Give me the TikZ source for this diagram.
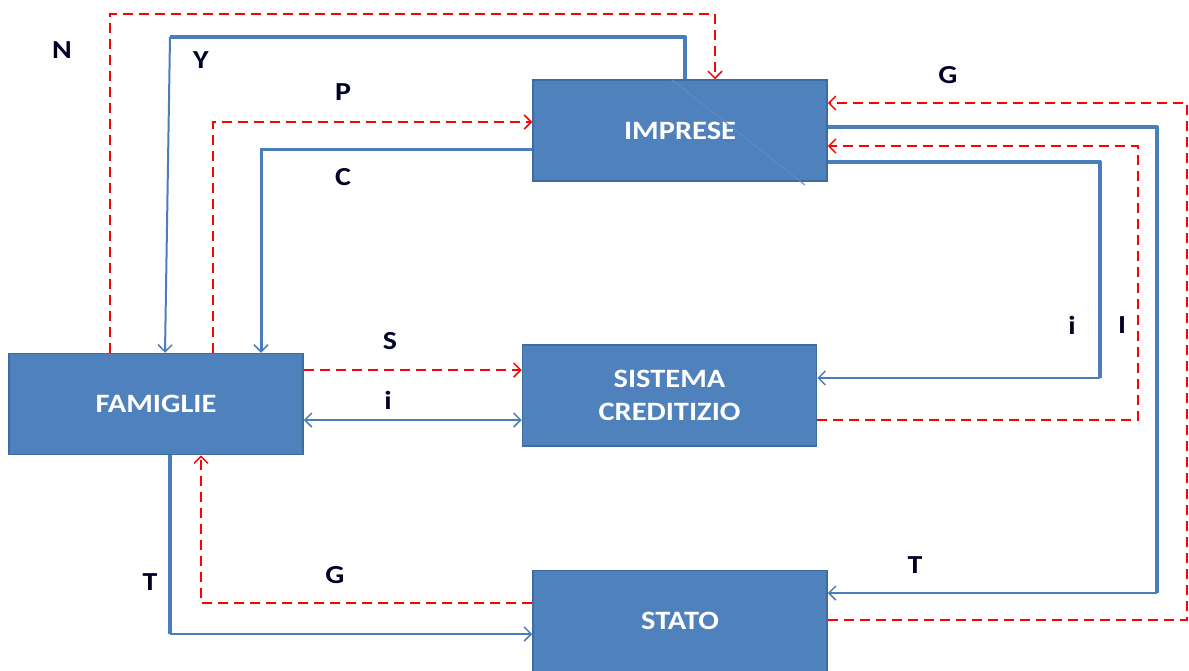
\documentclass[tikz,border=0pt]{standalone}
\usepackage{fontspec}
\setmainfont{Carlito}
\newfontfamily\cfont[FakeStretch=1.15]{Carlito}
\usetikzlibrary{arrows.meta}
\definecolor{boxblue}{HTML}{4F81BD}
\definecolor{boxedge}{HTML}{3F6C9E}
\definecolor{lineblue}{HTML}{4A7EBB}
\definecolor{fringe}{HTML}{5E8CC4}
\tikzset{
 box/.style={draw=boxedge, line width=1.5pt, fill=boxblue, minimum width=294pt, minimum height=101pt, inner sep=0pt, text=white, font=\cfont\bfseries\fontsize{26.5}{33}\selectfont, align=center},
 lbl/.style={font=\cfont\bfseries\fontsize{26}{30}\selectfont, text=black!85!blue, inner sep=0pt},
 flow/.style={draw=lineblue, line width=2pt},
 flowthick/.style={draw=lineblue, line width=4pt, line join=round},
 money/.style={draw=red, line width=2pt, dash pattern=on 10pt off 6pt},
 tip/.style={-{Straight Barb[length=7pt,width=14pt,line width=1.5pt]}},
 tips/.style={{Straight Barb[length=7pt,width=14pt,line width=1.5pt]}-{Straight Barb[length=7pt,width=14pt,line width=1.5pt]}}
}
\begin{document}
\begin{tikzpicture}[x=1pt,y=-1pt]
\useasboundingbox (0,0) rectangle (1189,670);
\fill[white] (0,0) rectangle (1189,670);

% boxes
\node[box] (I) at (680,130.5) {IMPRESE};
\node[box] (F) at (156,404) {FAMIGLIE};
\node[box] (S) at (669.5,395.5) {SISTEMA\\CREDITIZIO};
\node[box] (T) at (680,621) {STATO};

% faint diagonal artefact through IMPRESE
\coordinate (d1) at (672,80);
\coordinate (d2) at (805,185);
\draw[fringe, line width=1pt] (d1) -- (d2);

% corner coordinates
\coordinate (n1) at (110,14);  \coordinate (n2) at (715,14);
\coordinate (y1) at (685,37);  \coordinate (y2) at (170,37); \coordinate (y3) at (165,0);
\coordinate (p1) at (213,122);
\coordinate (c1) at (261,149);
\coordinate (s1) at (0,370);
\coordinate (i1) at (0,420);
\coordinate (g1) at (1187,620); \coordinate (g2) at (1187,103);
\coordinate (t1) at (1157,127); \coordinate (t2) at (1157,593);
\coordinate (r1) at (1138,420); \coordinate (r2) at (1138,146);
\coordinate (k1) at (1100,162); \coordinate (k2) at (1100,378);
\coordinate (l1) at (170,634);
\coordinate (h1) at (201,603);

% N
\draw[money,tip] (F.north -| n1) -- (n1) -- (n2) -- (I.north -| n2);
% Y
\draw[flowthick] (I.north -| y1) -- (y1) -- (y2);
\draw[flow,tip] (y2) -- (F.north -| y3);
% P
\draw[money,tip] (F.north -| p1) -- (p1) -- (I.west |- p1);
% C
\draw[draw=lineblue, line width=3pt, tip] (I.west |- c1) -- (c1) -- (F.north -| c1);
% S
\draw[money,tip] (F.east |- s1) -- (S.west |- s1);
% i
\draw[flow,tips] (F.east |- i1) -- (S.west |- i1);
% G (top)
\draw[money,tip] (T.east |- g1) -- (g1) -- (g2) -- (I.east |- g2);
% T (right)
\draw[flowthick] (I.east |- t1) -- (t1) -- (t2);
\draw[flow,tip] (t2) -- (T.east |- t2);
% I
\draw[money,tip] (S.east |- r1) -- (r1) -- (r2) -- (I.east |- r2);
% i (right)
\draw[flowthick] (I.east |- k1) -- (k1) -- (k2);
\draw[flow,tip] (k2) -- (S.east |- k2);
% T (left)
\draw[flowthick] (F.south -| l1) -- (l1);
\draw[flow,tip] (l1) -- (T.west |- l1);
% G (bottom)
\draw[money,tip] (T.west |- h1) -- (h1) -- (F.south -| h1);

% labels
\node[lbl] (lN) at (62,50) {N};
\node[lbl] (lY) at (201,60) {Y};
\node[lbl] (lP) at (343,92) {P};
\node[lbl] (lC) at (343,177) {C};
\node[lbl] (lS) at (390,341) {S};
\node[lbl] (li) at (388,400) {i};
\node[lbl] (lG) at (948,75) {G};
\node[lbl] (li2) at (1072,325) {i};
\node[lbl] (lI) at (1122,325) {I};
\node[lbl] (lT) at (915,565) {T};
\node[lbl] (lT2) at (150,582) {T};
\node[lbl] (lG2) at (335,575) {G};
\end{tikzpicture}
\end{document}
